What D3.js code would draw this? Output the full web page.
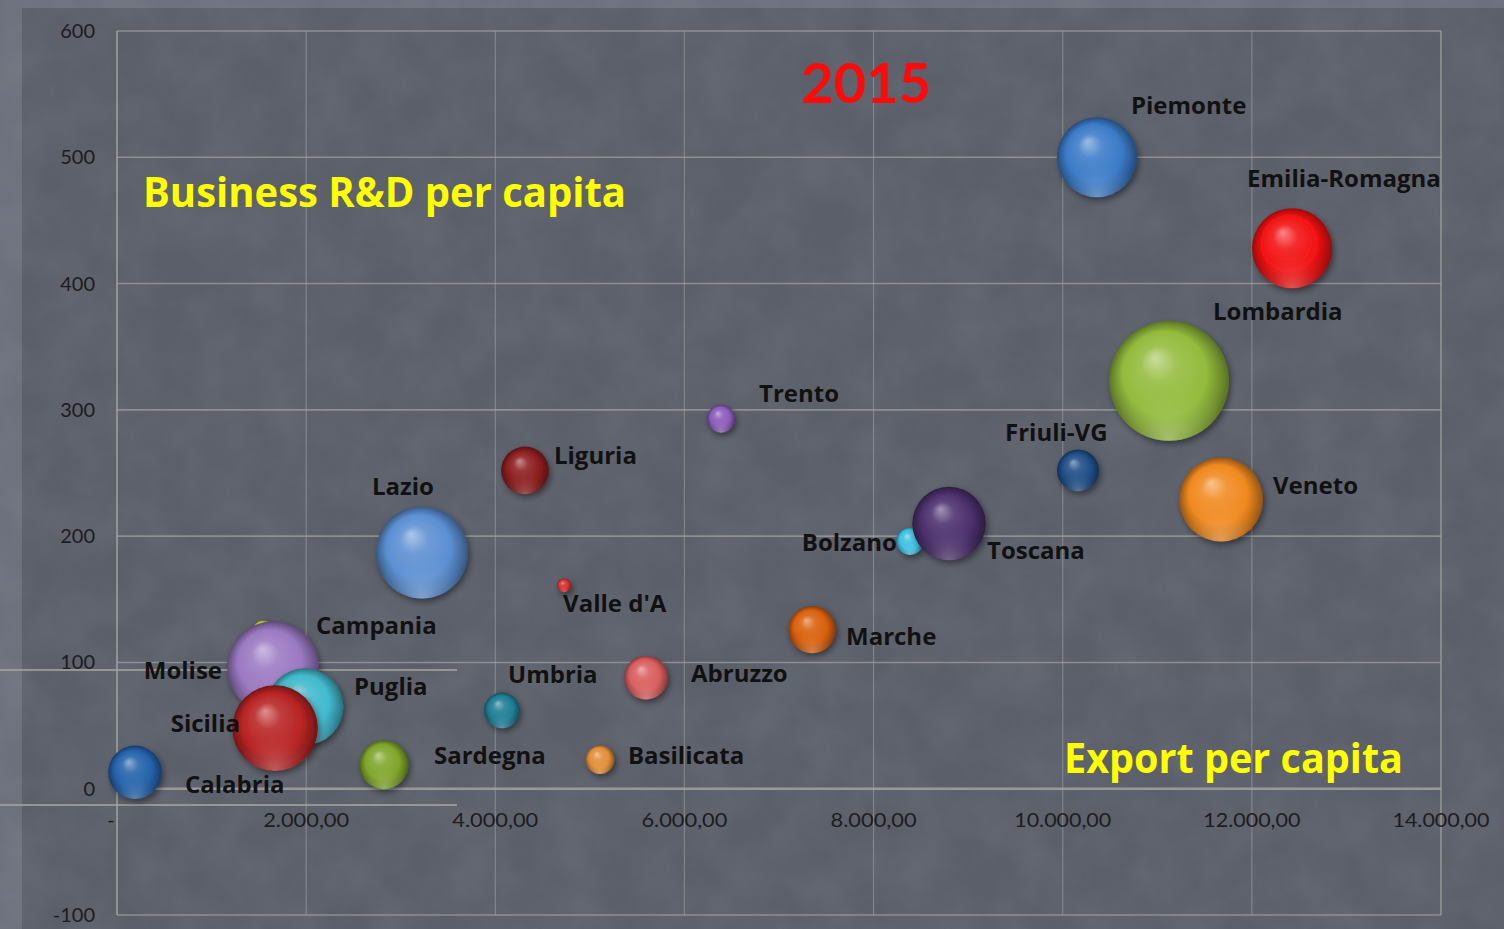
<!DOCTYPE html>
<html>
<head>
<meta charset="utf-8">
<script src="https://cdn.jsdelivr.net/npm/d3@7"></script>
<style>
  html, body { margin: 0; padding: 0; background: #6b6f7b; overflow: hidden; }
  #chart { width: 1504px; height: 929px; }
  text { font-family: Lato, "Open Sans", sans-serif; }
  .lbl { font-family: "Open Sans", Lato, sans-serif; }
</style>
</head>
<body>
<div id="chart"></div>
<script>
// regions, in drawing order (later ones sit on top)
const regions = ["Piemonte", "Emilia-Romagna", "Lombardia", "Friuli-VG", "Veneto", "Bolzano", "Toscana",
  "Marche", "Trento", "Liguria", "Lazio", "Valle d'A", "Abruzzo", "Umbria", "Basilicata", "Sardegna",
  "Molise", "Campania", "Puglia", "Sicilia", "Calabria"];
// export per capita (euro)
const exportPerCapita = [10362, 12425, 11124, 10162, 11674, 8385, 8798,
  7349, 6387, 4314, 3225, 4727, 5594, 4071, 5107, 2823,
  1544, 1650, 1988, 1671, 190];
// business R&D per capita (euro)
const rdPerCapita = [500, 428, 323, 252, 229, 196, 210,
  126, 293, 252, 187, 161, 88, 62, 23, 19,
  125, 96, 65, 48, 13];
// population (millions) -> bubble size
const population = [4.44, 4.45, 10.0, 1.22, 4.9, 0.52, 3.75,
  1.55, 0.54, 1.58, 5.89, 0.13, 1.33, 0.89, 0.57, 1.66,
  0.31, 5.86, 4.09, 5.09, 1.98];
const bubbleColors = ["#3b7bc8", "#f21212", "#93bb3c", "#1f4d86", "#f0891f", "#3cc0e2", "#4b2f6c",
  "#d8600c", "#8b5cba", "#8c1d1e", "#5b8fd2", "#d83030", "#d85e5e", "#1e7d94", "#e28e38", "#7fa52a",
  "#c4d23c", "#9b79c2", "#42b9cd", "#b92424", "#2462ab"];

const xTicks = [0, 2000, 4000, 6000, 8000, 10000, 12000, 14000];
const yTicks = [-100, 0, 100, 200, 300, 400, 500, 600];

// label placement relative to bubble centre (dx, dy to baseline, anchor)
const labelPos = {
  "Piemonte": [34, -43, "start"], "Emilia-Romagna": [-45, -61, "start"], "Lombardia": [44, -61, "start"],
  "Friuli-VG": [-73, -29, "start"], "Veneto": [52, -6, "start"], "Toscana": [38, 35, "start"],
  "Bolzano": [-13, 10, "end"], "Marche": [34, 15, "start"], "Trento": [38, -17, "start"],
  "Liguria": [29, -6, "start"], "Lazio": [-50, -58, "start"], "Valle d'A": [-1, 27, "start"],
  "Abruzzo": [45, 4, "start"], "Umbria": [6, -27, "start"], "Basilicata": [28, 4, "start"],
  "Sardegna": [50, -1, "start"], "Campania": [43, -33, "start"], "Molise": [-41, 48, "end"],
  "Puglia": [49, -12, "start"], "Sicilia": [-35, 4, "end"], "Calabria": [50, 21, "start"]
};

const W = 1504, H = 929;
const plot = { left: 117, right: 1441, top: 31, bottom: 915 };

const svg = d3.select("#chart").append("svg")
  .attr("width", W).attr("height", H);

const defs = svg.append("defs");

// slate texture, faint
const tex = defs.append("filter").attr("id", "tex").attr("x", 0).attr("y", 0).attr("width", "100%").attr("height", "100%");
tex.append("feTurbulence").attr("type", "fractalNoise").attr("baseFrequency", 0.02).attr("numOctaves", 4).attr("seed", 3);
tex.append("feColorMatrix").attr("type", "matrix")
  .attr("values", "0 0 0 0 1  0 0 0 0 1  0 0 0 0 1  0 0 0 0.09 -0.025");

// background: lighter frame, darker slate panel
svg.append("rect").attr("width", W).attr("height", H).attr("fill", "#6c707c");
svg.append("rect").attr("x", 22).attr("y", 8).attr("width", W - 22).attr("height", H - 8)
  .attr("fill", "#5b5f6a");
svg.append("rect").attr("width", W).attr("height", H).attr("filter", "url(#tex)");

const shadow = defs.append("filter").attr("id", "shadow")
  .attr("x", "-30%").attr("y", "-30%").attr("width", "170%").attr("height", "170%");
shadow.append("feDropShadow").attr("dx", 2).attr("dy", 3).attr("stdDeviation", 3)
  .attr("flood-color", "#000").attr("flood-opacity", 0.45);

const x = d3.scaleLinear().domain([0, 14000]).range([plot.left, plot.right]);
const y = d3.scaleLinear().domain([-100, 600]).range([plot.bottom, plot.top]);
const r = d3.scaleSqrt().domain([0, 10]).range([0, 60]);

const it = d3.formatLocale({ decimal: ",", thousands: ".", grouping: [3], currency: ["€", ""] });
const fmtX = v => v === 0 ? "-" : it.format(",.2f")(v);

// grid
const gridColor = "#a3a3a0";
const grid = svg.append("g");
grid.selectAll("line.v").data(xTicks).join("line")
  .attr("x1", d => x(d)).attr("x2", d => x(d))
  .attr("y1", plot.top).attr("y2", plot.bottom)
  .attr("stroke", gridColor).attr("stroke-opacity", 0.55).attr("stroke-width", 1.2);
grid.selectAll("line.h").data(yTicks).join("line")
  .attr("x1", plot.left).attr("x2", plot.right)
  .attr("y1", d => y(d)).attr("y2", d => y(d))
  .attr("stroke", gridColor).attr("stroke-opacity", d => d === 0 ? 0.85 : 0.7)
  .attr("stroke-width", d => d === 0 ? 2.5 : 1.6);
grid.append("line").attr("x1", plot.left).attr("x2", plot.left)
  .attr("y1", plot.top).attr("y2", plot.bottom)
  .attr("stroke", gridColor).attr("stroke-opacity", 0.75).attr("stroke-width", 1.6);
grid.append("line").attr("x1", plot.right).attr("x2", plot.right)
  .attr("y1", plot.top).attr("y2", plot.bottom)
  .attr("stroke", gridColor).attr("stroke-opacity", 0.6).attr("stroke-width", 1.4);

// stray slide lines on the left
[670, 805].forEach(yy => {
  svg.append("line").attr("x1", 0).attr("x2", 457).attr("y1", yy).attr("y2", yy)
    .attr("stroke", "#a9a79f").attr("stroke-opacity", 0.75).attr("stroke-width", 2);
});

// axis labels
svg.append("g").selectAll("text").data(yTicks).join("text")
  .attr("x", 95).attr("y", d => y(d) + 7)
  .attr("text-anchor", "end").attr("font-size", 20).attr("fill", "#1c1c1e")
  .text(d => d);
svg.append("g").selectAll("text").data(xTicks).join("text")
  .attr("x", d => d === 0 ? x(d) - 6 : x(d)).attr("y", 827)
  .attr("text-anchor", "middle").attr("font-size", 20).attr("fill", "#1c1c1e")
  .attr("textLength", d => d === 0 ? null : (d >= 10000 ? 97 : 86))
  .attr("lengthAdjust", "spacingAndGlyphs")
  .text(fmtX);

// bubbles
const data = regions.map((name, i) => ({
  name, ex: exportPerCapita[i], rd: rdPerCapita[i], pop: population[i], color: bubbleColors[i], i
}));

data.forEach(d => {
  const c = d3.color(d.color);
  const g = defs.append("radialGradient").attr("id", "g" + d.i)
    .attr("cx", "50%").attr("cy", "50%").attr("r", "50%").attr("fx", "38%").attr("fy", "30%");
  g.append("stop").attr("offset", "0%").attr("stop-color", d3.interpolateRgb(c, "#fff")(0.5));
  g.append("stop").attr("offset", "30%").attr("stop-color", d3.interpolateRgb(c, "#fff")(0.12));
  g.append("stop").attr("offset", "70%").attr("stop-color", c.formatHex());
  g.append("stop").attr("offset", "92%").attr("stop-color", c.darker(0.9).formatHex());
  g.append("stop").attr("offset", "100%").attr("stop-color", c.darker(1.4).formatHex());

  const g2 = defs.append("radialGradient").attr("id", "h" + d.i)
    .attr("cx", "50%").attr("cy", "100%").attr("r", "55%");
  g2.append("stop").attr("offset", "0%").attr("stop-color", d3.interpolateRgb(c, "#fff")(0.35)).attr("stop-opacity", 0.8);
  g2.append("stop").attr("offset", "100%").attr("stop-color", c.formatHex()).attr("stop-opacity", 0);
});

const bubbles = svg.append("g").selectAll("g").data(data).join("g")
  .attr("transform", d => `translate(${x(d.ex)},${y(d.rd)})`);
bubbles.append("circle").attr("r", d => r(d.pop))
  .attr("fill", d => `url(#g${d.i})`).attr("filter", "url(#shadow)");
bubbles.append("circle").attr("r", d => r(d.pop))
  .attr("fill", d => `url(#h${d.i})`);

// labels
svg.append("g").selectAll("text").data(data).join("text")
  .attr("class", "lbl")
  .attr("x", d => x(d.ex) + labelPos[d.name][0])
  .attr("y", d => y(d.rd) + labelPos[d.name][1])
  .attr("text-anchor", d => labelPos[d.name][2])
  .attr("font-size", 24).attr("font-weight", "bold").attr("fill", "#111")
  .text(d => d.name);

// titles
svg.append("text").attr("x", 866).attr("y", 103).attr("text-anchor", "middle")
  .attr("font-size", 56).attr("font-weight", "bold").attr("fill", "#ff0a0a").text("2015");
svg.append("text").attr("class", "lbl").attr("x", 143).attr("y", 207)
  .attr("font-size", 41).attr("font-weight", "bold").attr("fill", "#ffff00")
  .attr("textLength", 483).attr("lengthAdjust", "spacingAndGlyphs")
  .text("Business R&D per capita");
svg.append("text").attr("class", "lbl").attr("x", 1064).attr("y", 773)
  .attr("font-size", 41).attr("font-weight", "bold").attr("fill", "#ffff00")
  .attr("textLength", 339).attr("lengthAdjust", "spacingAndGlyphs")
  .text("Export per capita");
</script>
</body>
</html>
